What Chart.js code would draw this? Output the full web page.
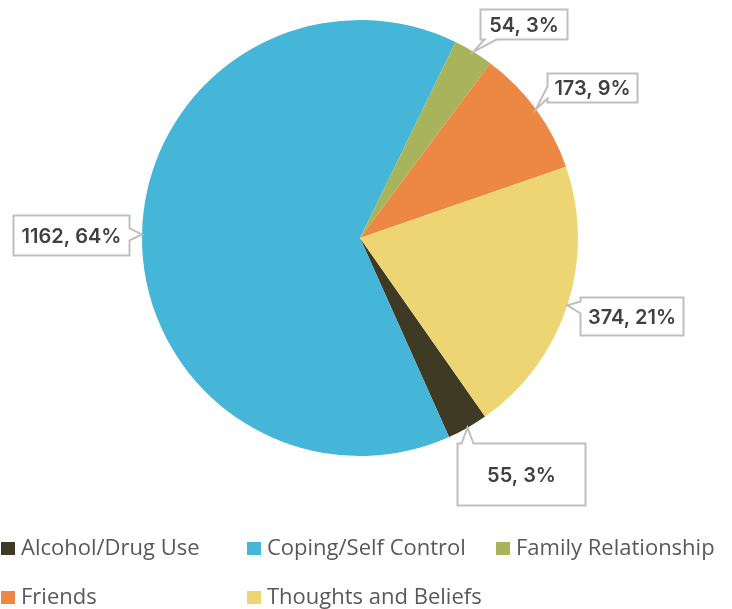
<!DOCTYPE html>
<html>
<head>
<meta charset="utf-8">
<script src="https://cdn.jsdelivr.net/npm/chart.js@4.4.1/dist/chart.umd.min.js"></script>
<style>
  body { margin: 0; background: #fff; }
  #wrap { width: 732px; height: 609px; position: relative; }
</style>
</head>
<body>
<div id="wrap"><canvas id="pieChart" width="732" height="609"></canvas></div>
<script>
const categories = [
  "Alcohol/Drug Use",
  "Coping/Self Control",
  "Family Relationship",
  "Friends",
  "Thoughts and Beliefs",
];
const counts = [55, 1162, 54, 173, 374];
const percents = [3, 64, 3, 9, 21];
const colors = ["#3e3a24", "#45b5d8", "#a8b45b", "#ec8843", "#eed574"];

// callout boxes: offset of box centre from slice outer midpoint, and box size
const callouts = [
  { dx: 53, dy: 46, w: 128, h: 62 },
  { dx: -71, dy: 1, w: 116, h: 40 },
  { dx: 50, dy: -28, w: 87, h: 30 },
  { dx: 56, dy: -22, w: 90, h: 29 },
  { dx: 64, dy: 11, w: 103, h: 38 },
];

// legend grid
const legendCols = [1, 247, 496];
const legendRows = [555, 604];

function calloutPath(c, x0, y0, x1, y1, tx, ty) {
  // which side the pointer comes out of
  const out = {
    left: x0 - tx,
    right: tx - x1,
    top: y0 - ty,
    bottom: ty - y1,
  };
  let side = "left";
  for (const k in out) if (out[k] > out[side]) side = k;
  const half = 6;
  const clamp = (v, a, b) => Math.max(a, Math.min(b, v));
  c.beginPath();
  c.moveTo(x0, y0);
  if (side === "top") {
    const m = clamp(tx, x0 + half + 4, x1 - half - 4);
    c.lineTo(m - half, y0); c.lineTo(tx, ty); c.lineTo(m + half, y0);
  }
  c.lineTo(x1, y0);
  if (side === "right") {
    const m = clamp(ty, y0 + half + 4, y1 - half - 4);
    c.lineTo(x1, m - half); c.lineTo(tx, ty); c.lineTo(x1, m + half);
  }
  c.lineTo(x1, y1);
  if (side === "bottom") {
    const m = clamp(tx, x0 + half + 4, x1 - half - 4);
    c.lineTo(m + half, y1); c.lineTo(tx, ty); c.lineTo(m - half, y1);
  }
  c.lineTo(x0, y1);
  if (side === "left") {
    const m = clamp(ty, y0 + half + 4, y1 - half - 4);
    c.lineTo(x0, m + half); c.lineTo(tx, ty); c.lineTo(x0, m - half);
  }
  c.closePath();
}

const labelPlugin = {
  id: "calloutLabels",
  afterDatasetsDraw(chart) {
    const c = chart.ctx;
    const arcs = chart.getDatasetMeta(0).data;
    c.save();
    arcs.forEach((arc, i) => {
      const p = arc.getProps(["x", "y", "startAngle", "endAngle", "outerRadius"], true);
      const mid = (p.startAngle + p.endAngle) / 2;
      const tx = p.x + Math.cos(mid) * p.outerRadius;
      const ty = p.y + Math.sin(mid) * p.outerRadius;
      const co = callouts[i];
      const cx = tx + co.dx, cy = ty + co.dy;
      const x0 = Math.round(cx - co.w / 2) + 0.5, y0 = Math.round(cy - co.h / 2) + 0.5;
      const x1 = x0 + co.w, y1 = y0 + co.h;
      calloutPath(c, x0, y0, x1, y1, tx, ty);
      c.fillStyle = "#ffffff";
      c.fill();
      c.lineWidth = 2;
      c.strokeStyle = "#bfbfbf";
      c.stroke();
      c.fillStyle = "#404040";
      c.font = "600 20px Inter";
      c.textAlign = "center";
      c.textBaseline = "middle";
      c.fillText(counts[i] + ", " + percents[i] + "%", (x0 + x1) / 2, (y0 + y1) / 2 + 1);
    });
    c.restore();
  },
};

const legendPlugin = {
  id: "gridLegend",
  afterDraw(chart) {
    const c = chart.ctx;
    c.save();
    c.font = "22px 'Open Sans'";
    c.textBaseline = "alphabetic";
    c.textAlign = "left";
    categories.forEach((name, i) => {
      const x = legendCols[i % 3];
      const y = legendRows[Math.floor(i / 3)];
      c.fillStyle = colors[i];
      c.fillRect(x, y - 13, 14, 13);
      c.fillStyle = "#595959";
      c.fillText(name, x + 20, y);
    });
    c.restore();
  },
};

const ctx = document.getElementById("pieChart").getContext("2d");
const pieChart = new Chart(ctx, {
  type: "pie",
  data: {
    labels: categories,
    datasets: [
      {
        data: counts,
        backgroundColor: colors,
        borderWidth: 0,
      },
    ],
  },
  options: {
    responsive: false,
    animation: false,
    rotation: 145,
    layout: {
      padding: { left: 142, top: 20, right: 154, bottom: 153 },
    },
    plugins: {
      legend: { display: false },
      tooltip: { enabled: false },
    },
  },
  plugins: [labelPlugin, legendPlugin],
});
</script>
</body>
</html>
